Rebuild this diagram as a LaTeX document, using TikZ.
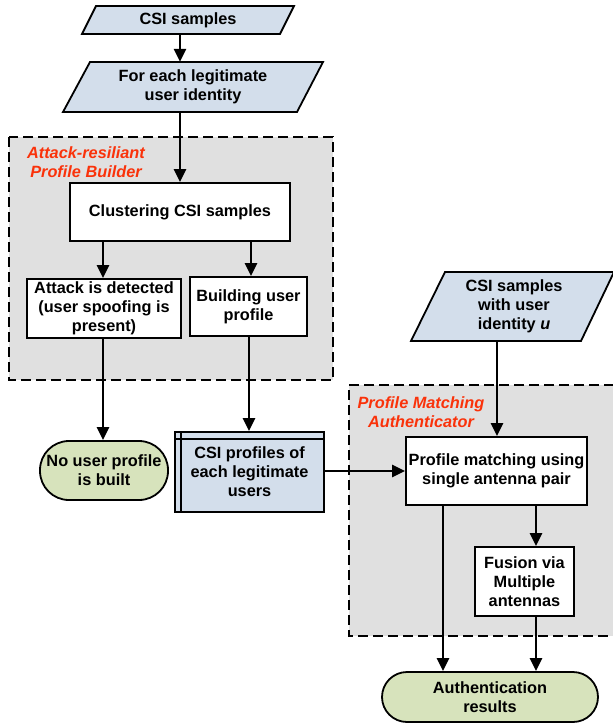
\documentclass[tikz,border=0pt]{standalone}
\usepackage{fontspec}
\setmainfont{Liberation Sans}
\usetikzlibrary{arrows.meta}
\definecolor{bluefill}{RGB}{211,222,235}
\definecolor{greenfill}{RGB}{215,227,188}
\definecolor{grayfill}{RGB}{224,224,224}
\definecolor{labelred}{RGB}{250,50,10}
\begin{document}
\begin{tikzpicture}[x=1pt,y=-1pt,
  txt/.style={font=\fontsize{16.3}{19}\selectfont\bfseries, align=center, inner sep=0pt},
  box/.style={txt, draw, line width=1.8pt, fill=white},
  para/.style={draw, line width=1.8pt, fill=bluefill, line join=miter},
  stad/.style={box, fill=greenfill},
  group/.style={fill=grayfill, draw, line width=1.6pt, dash pattern=on 10pt off 5pt},
  grouplabel/.style={font=\fontsize{16.3}{19}\selectfont\bfseries\itshape, text=labelred, align=center, inner sep=0pt},
  arr/.style={line width=2.7pt, -{Triangle[length=13pt,width=12pt]}}
]
\useasboundingbox (0,0) rectangle (613,726);

% group boxes
\path[group] (9,137) rectangle (333,380);
\fill[grayfill] (349,385) rectangle (613,636);
\draw[line width=1.6pt, dash pattern=on 10pt off 5pt] (614,385) -- (349,385) -- (349,636) -- (614,636);
\node[grouplabel] (lblA) at (86,162) {Attack-resiliant\\Profile Builder};
\node[grouplabel] (lblB) at (421,412) {Profile Matching\\Authenticator};

% parallelograms
\path[para] (96,6) -- (294,6) -- (280,34) -- (82,34) -- cycle;
\node[txt, minimum width=150pt, minimum height=28pt] (csi) at (188,20) {CSI samples};
\path[para] (90,62) -- (323,62) -- (297,112) -- (63,112) -- cycle;
\node[txt, minimum width=180pt, minimum height=50pt] (each) at (193,87) {For each legitimate\\user identity};
\path[para] (445,272) -- (614,272) -- (581,341) -- (411,341) -- cycle;
\node[txt, minimum width=120pt, minimum height=69pt] (csiu) at (514,306.5) {CSI samples\\with user\\identity \textit{u}};

% boxes
\node[box, minimum width=220pt, minimum height=58pt] (clus) at (180,212) {Clustering CSI samples};
\node[box, minimum width=154pt, minimum height=59pt] (att) at (104,308.5) {Attack is detected\\(user spoofing is\\present)};
\node[box, minimum width=117pt, minimum height=59pt] (build) at (248.5,306.5) {Building user\\profile};
\node[stad, rounded corners=29pt, minimum width=128pt, minimum height=59pt] (noprof) at (104,470.5) {No user profile\\is built};
\node[box, fill=bluefill, minimum width=149pt, minimum height=80pt] (prof) at (249.5,472) {CSI profiles of\\each legitimate\\users};
\draw[line width=1.8pt] (prof.north west) ++(7,0) -- ++(0,80);
\draw[line width=1.8pt] (prof.north west) ++(0,8) -- ++(149,0);
\node[box, minimum width=181pt, minimum height=68pt] (pm) at (496.5,471) {Profile matching using\\single antenna pair};
\node[box, minimum width=99pt, minimum height=69pt] (fus) at (524.5,581.5) {Fusion via\\Multiple\\antennas};
\node[stad, rounded corners=25pt, minimum width=216pt, minimum height=50pt] (auth) at (490,697) {Authentication\\results};

% column coordinates
\coordinate (c180) at (180,0);
\coordinate (c103) at (103,0);
\coordinate (c251) at (251,0);
\coordinate (c249) at (249,0);
\coordinate (c497) at (497,0);
\coordinate (c443) at (443,0);
\coordinate (c536) at (536,0);

% connectors
\draw[arr] (csi.south -| c180) -- (each.north -| c180);
\draw[arr] (each.south -| c180) -- (clus.north -| c180);
\draw[arr] (clus.south -| c103) -- (att.north -| c103);
\draw[arr] (clus.south -| c251) -- (build.north -| c251);
\draw[arr] (att.south -| c103) -- (noprof.north -| c103);
\draw[arr] (build.south -| c249) -- (prof.north -| c249);
\draw[arr] (prof.east |- pm.west) -- (pm.west);
\draw[arr] (csiu.south -| c497) -- (pm.north -| c497);
\draw[arr] (pm.south -| c443) -- (auth.north -| c443);
\draw[arr] (pm.south -| c536) -- (fus.north -| c536);
\draw[arr] (fus.south -| c536) -- (auth.north -| c536);
\end{tikzpicture}
\end{document}
